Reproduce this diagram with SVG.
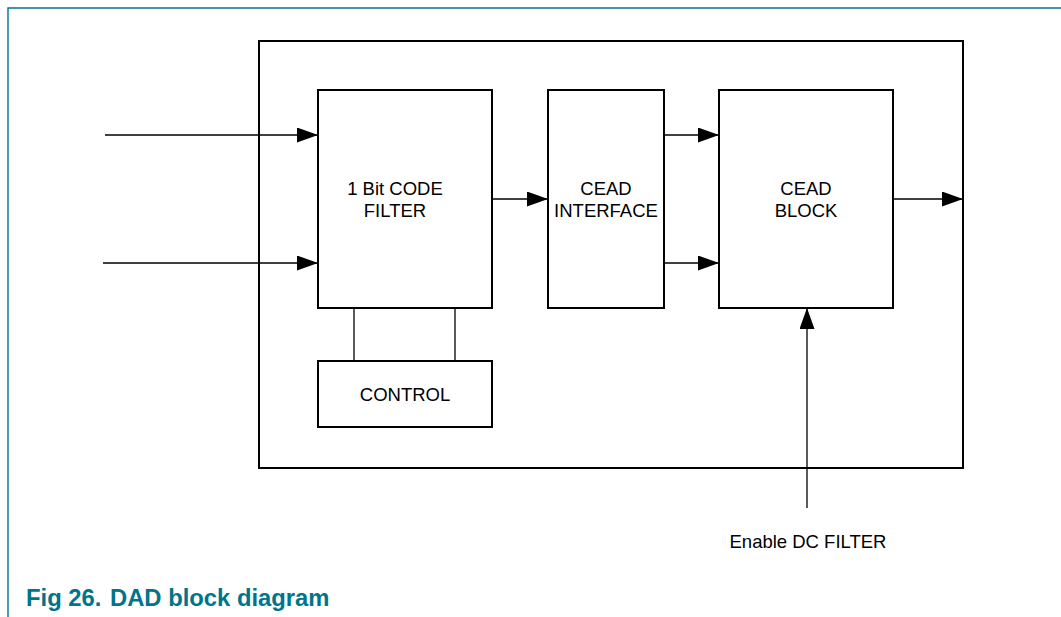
<svg xmlns="http://www.w3.org/2000/svg" width="1061" height="617" viewBox="0 0 1061 617">
<style>
.box{fill:#fff;stroke:#000;stroke-width:2}
.lbl{font-family:"Liberation Sans",Arial,sans-serif;font-size:18.5px;fill:#000;text-anchor:middle}
.wire{stroke:#000;stroke-width:1.3;fill:none}
.arr{stroke:#000;stroke-width:1.3;fill:none;marker-end:url(#ah)}
.frame{stroke:#00748a;stroke-width:1.4;fill:none}
.cap{font-family:"Liberation Sans",Arial,sans-serif;font-size:23.8px;font-weight:bold;fill:#00748a}
</style>
<defs>
<marker id="ah" markerUnits="userSpaceOnUse" markerWidth="22" markerHeight="16" refX="21" refY="7.5" orient="auto">
<path d="M0,0 L21,7.5 L0,15 Z" fill="#000"/>
</marker>
</defs>
<rect width="1061" height="617" fill="#fff"/>
<path class="frame" d="M8,617 V8 H1061"/>
<g id="outer"><rect x="259" y="41" width="704" height="427" style="fill:none;stroke:#000;stroke-width:2"/></g>
<g id="connectors">
<line class="arr" x1="105" y1="135" x2="318" y2="135"/>
<line class="arr" x1="103" y1="263" x2="318" y2="263"/>
<line class="arr" x1="492" y1="199" x2="548" y2="199"/>
<line class="arr" x1="664" y1="135" x2="719" y2="135"/>
<line class="arr" x1="664" y1="263" x2="719" y2="263"/>
<line class="arr" x1="893" y1="199" x2="963" y2="199"/>
<line class="arr" x1="807" y1="508" x2="807" y2="308"/>
<line class="wire" x1="354" y1="308" x2="354" y2="361"/>
<line class="wire" x1="455" y1="308" x2="455" y2="361"/>
</g>
<g id="codefilter">
<rect class="box" x="318" y="90" width="174" height="218"/>
<text class="lbl" x="395" y="195">1 Bit CODE</text>
<text class="lbl" x="395" y="217">FILTER</text>
</g>
<g id="ceadinterface">
<rect class="box" x="548" y="90" width="116" height="218"/>
<text class="lbl" x="606" y="195">CEAD</text>
<text class="lbl" x="606" y="217">INTERFACE</text>
</g>
<g id="ceadblock">
<rect class="box" x="719" y="90" width="174" height="218"/>
<text class="lbl" x="806" y="195">CEAD</text>
<text class="lbl" x="806" y="217">BLOCK</text>
</g>
<g id="control">
<rect class="box" x="318" y="361" width="174" height="66"/>
<text class="lbl" x="405" y="401">CONTROL</text>
</g>
<g id="enable">
<text class="lbl" x="808" y="548">Enable DC FILTER</text>
</g>
<text class="cap" x="26" y="606">Fig 26.<tspan x="110">DAD block diagram</tspan></text>
</svg>
